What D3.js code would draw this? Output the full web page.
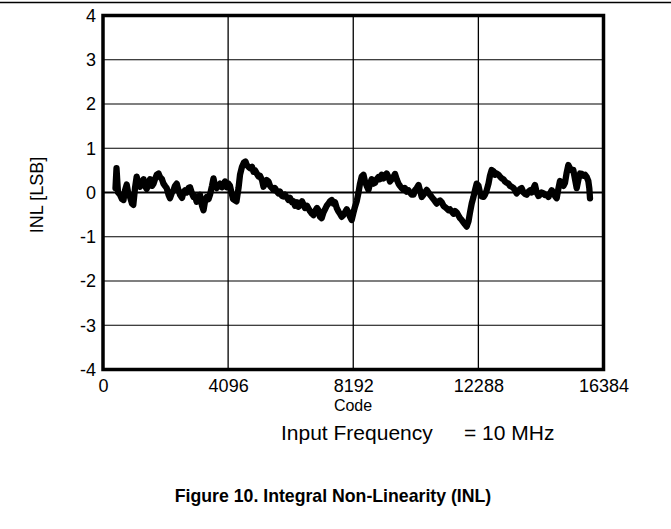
<!DOCTYPE html>
<html><head><meta charset="utf-8">
<script src="https://cdn.jsdelivr.net/npm/d3@7"></script>
<style>body{margin:0;background:#fff}svg{display:block}text{font-family:"Liberation Sans",Arial,sans-serif;fill:#000}</style>
</head><body>
<svg id="c" width="671" height="529"></svg>
<script>
const xTicks = [0, 4096, 8192, 12288, 16384];
const yTicks = [-4, -3, -2, -1, 0, 1, 2, 3, 4];
const xLabel = "Code";
const yLabel = "INL [LSB]";
const noteLeft = "Input Frequency";
const noteRight = "= 10 MHz";
const caption = "Figure 10. Integral Non-Linearity (INL)";
// [code, INL in LSB]
const inl = [
[409,0.1],[442,0.55],[491,0.0],[556,-0.05],[622,-0.15],[671,-0.17],[720,0.05],[776,0.18],[835,-0.05],[884,-0.1],
[949,-0.25],[992,-0.28],[1048,0.1],[1103,0.36],[1162,0.15],[1211,0.13],[1277,0.25],[1326,0.3],[1375,0.15],[1431,0.08],
[1489,0.22],[1539,0.3],[1604,0.15],[1653,0.2],[1702,0.3],[1758,0.4],[1817,0.43],[1866,0.35],[1931,0.3],[1980,0.2],
[2030,0.15],[2085,0.1],[2144,-0.05],[2193,-0.13],[2259,0.0],[2308,0.05],[2357,0.15],[2413,0.2],[2471,0.05],[2521,-0.05],
[2586,-0.12],[2635,0.0],[2684,0.05],[2740,0.0],[2799,0.1],[2848,0.12],[2913,-0.02],[2963,-0.1],[3012,-0.08],[3067,-0.21],
[3126,-0.1],[3175,-0.05],[3241,-0.3],[3290,-0.4],[3339,-0.2],[3395,-0.1],[3454,-0.15],[3503,-0.05],[3568,0.15],[3617,0.32],
[3666,0.15],[3722,0.1],[3781,0.15],[3830,0.2],[3895,0.12],[3945,0.18],[3994,0.25],[4049,0.12],[4108,0.2],[4157,0.15],
[4256,-0.15],[4370,-0.2],[4436,0.1],[4485,0.4],[4550,0.58],[4616,0.68],[4665,0.7],[4704,0.62],[4763,0.58],[4812,0.55],
[4878,0.58],[4927,0.47],[4976,0.5],[5041,0.42],[5090,0.36],[5139,0.38],[5205,0.28],[5254,0.13],[5303,0.2],[5359,0.28],
[5418,0.25],[5467,0.15],[5532,0.1],[5581,0.06],[5630,0.1],[5696,0.02],[5745,-0.02],[5794,0.02],[5860,-0.08],[5909,-0.09],
[5958,-0.05],[6023,-0.12],[6072,-0.17],[6121,-0.12],[6187,-0.22],[6236,-0.2],[6285,-0.3],[6351,-0.22],[6400,-0.32],[6449,-0.28],
[6514,-0.2],[6563,-0.27],[6612,-0.35],[6678,-0.3],[6727,-0.36],[6776,-0.42],[6842,-0.48],[6891,-0.51],[6940,-0.42],[7005,-0.35],
[7054,-0.4],[7103,-0.55],[7159,-0.58],[7218,-0.45],[7267,-0.38],[7323,-0.3],[7382,-0.25],[7431,-0.2],[7487,-0.17],[7545,-0.25],
[7595,-0.22],[7650,-0.35],[7709,-0.43],[7758,-0.48],[7814,-0.55],[7873,-0.51],[7922,-0.45],[7978,-0.38],[8036,-0.45],[8086,-0.55],
[8141,-0.62],[8200,-0.45],[8249,-0.32],[8305,-0.2],[8364,0.0],[8413,0.2],[8469,0.36],[8527,0.4],[8577,0.25],[8632,0.15],
[8691,0.06],[8740,0.2],[8796,0.3],[8855,0.2],[8904,0.22],[8960,0.3],[9018,0.35],[9068,0.3],[9123,0.4],[9182,0.32],
[9231,0.38],[9287,0.43],[9346,0.35],[9395,0.25],[9451,0.3],[9509,0.35],[9559,0.42],[9614,0.3],[9673,0.2],[9722,0.15],
[9778,0.1],[9837,0.06],[9886,0.1],[9941,0.02],[10000,0.05],[10050,0.0],[10105,-0.05],[10164,-0.05],[10213,0.05],[10269,0.1],
[10328,0.17],[10377,0.05],[10433,-0.1],[10492,-0.05],[10541,0.0],[10596,0.06],[10655,0.0],[10704,-0.05],[10760,-0.1],[10819,-0.15],
[10868,-0.2],[10924,-0.25],[10983,-0.2],[11032,-0.18],[11087,-0.22],[11146,-0.3],[11195,-0.33],[11251,-0.36],[11310,-0.4],[11359,-0.38],
[11415,-0.43],[11474,-0.48],[11523,-0.42],[11578,-0.45],[11637,-0.52],[11686,-0.58],[11742,-0.62],[11801,-0.68],[11850,-0.72],[11906,-0.77],
[11965,-0.65],[12014,-0.45],[12069,-0.25],[12128,-0.1],[12177,0.05],[12233,0.2],[12292,0.15],[12341,0.0],[12397,-0.09],[12456,-0.1],
[12505,-0.05],[12560,0.05],[12619,0.2],[12668,0.38],[12724,0.51],[12783,0.48],[12832,0.4],[12888,0.43],[12947,0.4],[12996,0.36],
[13051,0.32],[13110,0.3],[13159,0.25],[13215,0.22],[13274,0.2],[13323,0.15],[13379,0.13],[13438,0.1],[13487,0.05],[13542,-0.02],
[13601,0.03],[13650,0.08],[13706,0.1],[13765,0.0],[13814,-0.03],[13870,-0.05],[13928,0.02],[13978,0.05],[14033,0.0],[14092,0.1],
[14141,0.17],[14197,0.0],[14256,-0.08],[14305,-0.05],[14361,0.0],[14420,-0.02],[14469,-0.06],[14524,-0.05],[14583,-0.1],[14633,-0.02],
[14688,0.05],[14747,0.0],[14796,-0.08],[14852,-0.13],[14911,0.1],[14960,0.26],[15015,0.2],[15074,0.15],[15124,0.22],[15179,0.45],
[15232,0.62],[15287,0.55],[15343,0.5],[15395,0.51],[15451,0.3],[15507,0.1],[15566,0.3],[15615,0.43],[15670,0.42],[15729,0.38],
[15778,0.4],[15834,0.35],[15887,0.26],[15919,0.1],[15942,-0.13]
];

const FONT = '"Liberation Sans",Arial,sans-serif';
const svg = d3.select("#c");
const L = 103, R = 603.5, T = 15.5, B = 369.5;
const x = d3.scaleLinear().domain([0, 16384]).range([L, R]);
const y = d3.scaleLinear().domain([-4, 4]).range([B, T]);

// top rule
svg.append("line").attr("x1", 0).attr("x2", 671).attr("y1", 2.5).attr("y2", 2.5)
  .attr("stroke", "#000").attr("stroke-width", 1.5);

// grid
const g = svg.append("g");
g.selectAll(".vg").data(xTicks.slice(1, -1)).join("line")
  .attr("x1", d => x(d)).attr("x2", d => x(d)).attr("y1", T).attr("y2", B)
  .attr("stroke", "#000").attr("stroke-width", 1.3);
g.selectAll(".hg").data(yTicks.slice(1, -1)).join("line")
  .attr("x1", L).attr("x2", R).attr("y1", d => y(d)).attr("y2", d => y(d))
  .attr("stroke", "#000").attr("stroke-width", d => d === 0 ? 2.2 : 1.1);

// data
svg.append("path").datum(inl)
  .attr("fill", "none").attr("stroke", "#000").attr("stroke-width", 6.3)
  .attr("stroke-linejoin", "round").attr("stroke-linecap", "round")
  .attr("d", d3.line().x(d => x(d[0])).y(d => y(d[1])));

// frame
svg.append("rect").attr("x", L).attr("y", T).attr("width", R - L).attr("height", B - T)
  .attr("fill", "none").attr("stroke", "#000").attr("stroke-width", 3.5);

// tick labels via d3 axes (no lines)
const xa = svg.append("g").attr("transform", `translate(0,${B})`)
  .call(d3.axisBottom(x).tickValues(xTicks).tickSize(0).tickPadding(10).tickFormat(d => String(d)));
xa.select(".domain").remove();
xa.attr("font-size", null).attr("font-family", null);
xa.selectAll("text").style("font-size", "18px").style("font-family", FONT);

const ya = svg.append("g").attr("transform", `translate(${L},0)`)
  .call(d3.axisLeft(y).tickValues(yTicks).tickSize(0).tickPadding(7).tickFormat(d => String(d)));
ya.select(".domain").remove();
ya.attr("font-size", null).attr("font-family", null);
ya.selectAll("text").style("font-size", "18px").style("font-family", FONT);

svg.append("text").attr("x", 353).attr("y", 411).attr("text-anchor", "middle")
  .style("font-size", "16px").text(xLabel);
svg.append("text").attr("transform", "translate(43,195) rotate(-90)").attr("text-anchor", "middle")
  .style("font-size", "18px").text(yLabel);
svg.append("text").attr("x", 281).attr("y", 440).style("font-size", "21px").text(noteLeft);
svg.append("text").attr("x", 464).attr("y", 440).style("font-size", "21px").text(noteRight);
svg.append("text").attr("x", 333).attr("y", 502).attr("text-anchor", "middle")
  .style("font-size", "17.7px").style("font-weight", "bold").text(caption);
</script>
</body></html>
